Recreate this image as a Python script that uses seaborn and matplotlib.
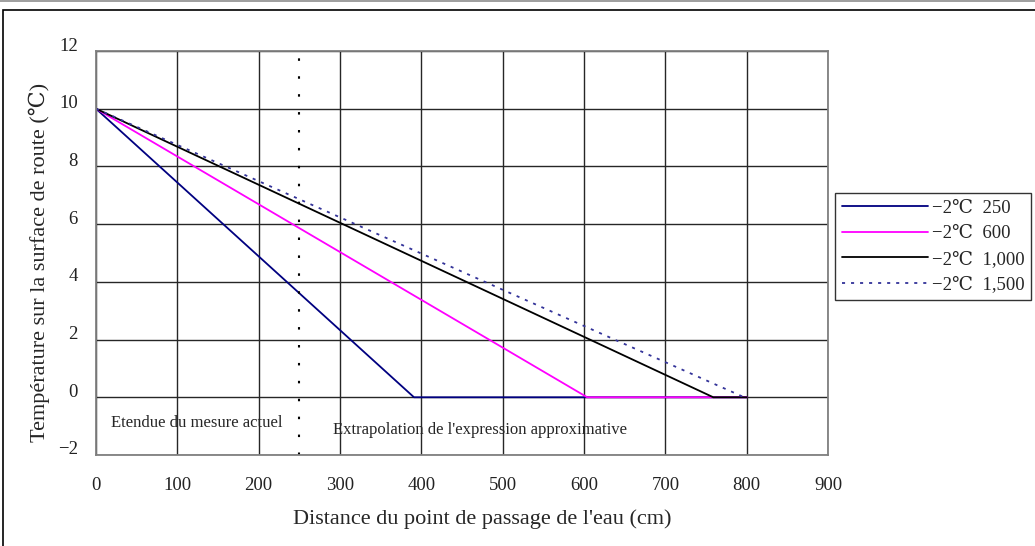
import matplotlib
matplotlib.use("Agg")
import matplotlib.pyplot as plt
import matplotlib.transforms as mtransforms
import seaborn as sns
import pandas as pd
from matplotlib.patches import Rectangle

# data
x_250 = [0, 391, 800]
y_250 = [10, 0, 0]
x_600 = [0, 604, 800]
y_600 = [10, 0, 0]
x_1000 = [0, 759, 800]
y_1000 = [10, 0, 0]
x_1500 = [0, 797, 800]
y_1500 = [10, 0, 0]
labels = ["−2℃  250", "−2℃  600", "−2℃  1,000", "−2℃  1,500"]
x_ticks = [0, 100, 200, 300, 400, 500, 600, 700, 800, 900]
y_ticks = [-2, 0, 2, 4, 6, 8, 10, 12]
boundary_x = 250

sns.set_theme(style="white")
FAM = ["Liberation Serif", "DejaVu Serif"]
plt.rcParams["font.family"] = FAM

W, H = 1035, 546
fig = plt.figure(figsize=(W / 100, H / 100), dpi=100)
L, R, T, B = 96, 828, 51, 455
ax = fig.add_axes([L / W, 1 - B / H, (R - L) / W, (B - T) / H])

# figure frame
fig.patches.append(Rectangle((3 / W, -0.1), 1.2, 1 - 10 / H + 0.1, transform=fig.transFigure,
                             fill=False, edgecolor="black", linewidth=1.2))
fig.patches.append(Rectangle((0, 1 - 1.5 / H), 1, 1.5 / H, transform=fig.transFigure,
                             facecolor="#a0a0a0", edgecolor="none"))

series = [
    (x_250, y_250, labels[0], "#000080", "-"),
    (x_600, y_600, labels[1], "#FF00FF", "-"),
    (x_1000, y_1000, labels[2], "#000000", "-"),
    (x_1500, y_1500, labels[3], "#333399", (0, (1.7, 3.3))),
]
for xs, ys, lab, col, ls in series:
    df = pd.DataFrame({"x": xs, "y": ys})
    sns.lineplot(data=df, x="x", y="y", ax=ax, color=col, linestyle=ls, linewidth=1.3,
                 label=lab, estimator=None, sort=False)

ax.set_xlim(0, 900)
ax.set_ylim(-2, 12)
ax.set_xticks(x_ticks)
ax.set_yticks(y_ticks)
ax.set_yticklabels(["−2" if v < 0 else str(v) for v in y_ticks])
ax.grid(True, color="#262626", linewidth=1.0)
ax.tick_params(axis="both", length=0, labelsize=13.5, colors="#222222")
ax.tick_params(axis="x", pad=16)
ax.tick_params(axis="y", pad=13)
shift = mtransforms.ScaledTranslation(0, 7 / 100, fig.dpi_scale_trans)
for lbl in ax.get_yticklabels():
    lbl.set_transform(lbl.get_transform() + shift)
for s in ax.spines.values():
    s.set_color("#808080")
    s.set_linewidth(1.3)

ax.axvline(boundary_x, ymin=0, ymax=(11.86 + 2) / 14, color="black", linestyle=(0, (1.2, 7.4)),
           linewidth=1.5)

ax.text(18, -0.9, "Etendue du mesure actuel", fontsize=12, va="center", ha="left")
ax.text(291, -1.14, "Extrapolation de l'expression approximative", fontsize=12, va="center", ha="left")

ax.set_xlabel("")
ax.set_ylabel("")
fig.text(482 / W, 1 - 519 / H, "Distance du point de passage de l'eau (cm)", fontsize=16,
         ha="center", va="center")
fig.text(39 / W, 1 - 262 / H, "Température sur la surface de route (℃)", fontsize=16,
         ha="center", va="center", rotation=90)

leg = ax.legend(loc="upper left", bbox_to_anchor=(835 / W, 1 - 193 / H), bbox_transform=fig.transFigure,
                frameon=True, fancybox=False, fontsize=13.5, handlelength=4.6, borderaxespad=0,
                labelspacing=0.45, handletextpad=0.2, borderpad=0.35)
leg.get_frame().set_edgecolor("black")
leg.get_frame().set_linewidth(1.0)

fig.savefig("out.png", dpi=100)
